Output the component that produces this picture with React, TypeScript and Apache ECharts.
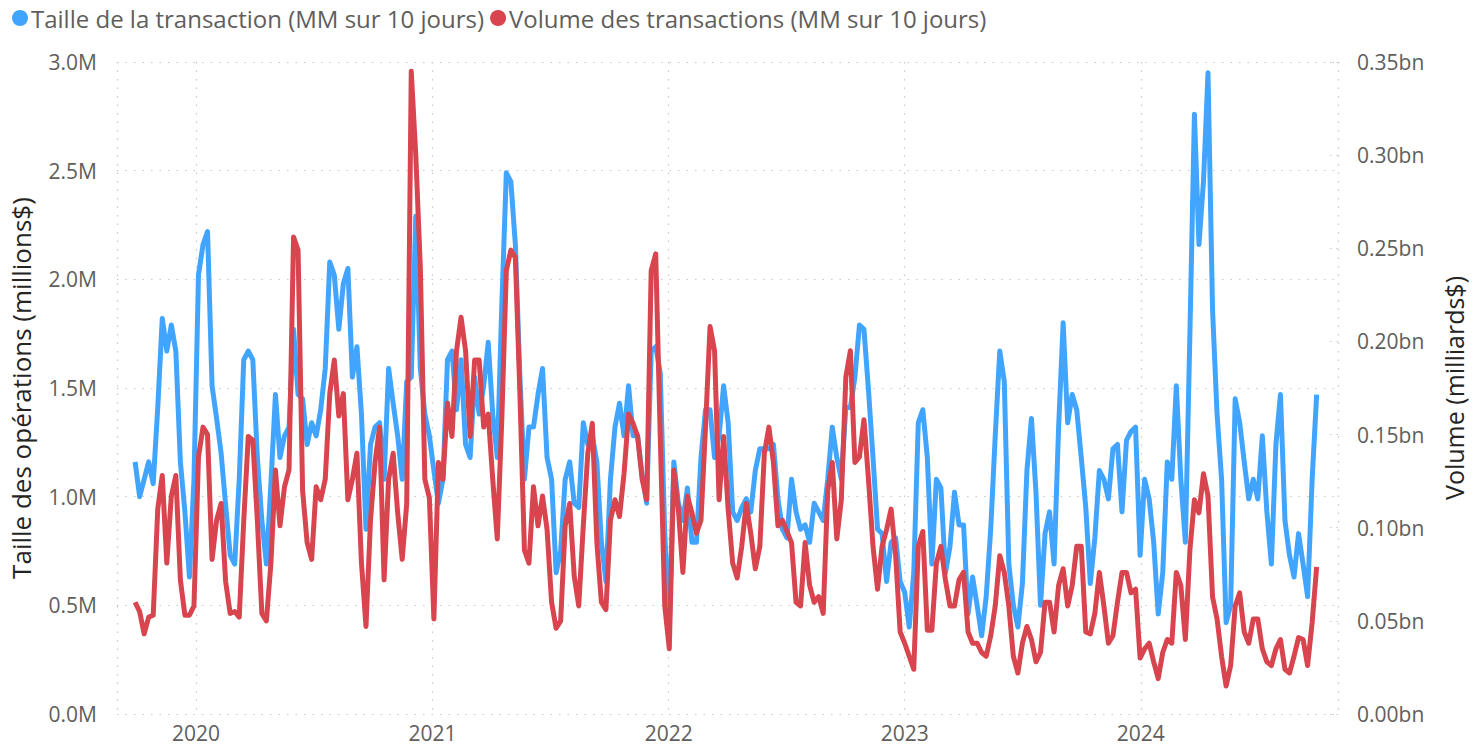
import React, { useEffect, useRef } from "react";
import * as echarts from "echarts";

// Weekly samples of the 10-day moving averages, starting 2019-09-29
const START_DATE = "2019-09-29";
const STEP_DAYS = 7;

// Taille de la transaction (millions $)
const tradeSize: number[] = [
  1.16, 1.0, 1.08, 1.16, 1.06, 1.41, 1.82, 1.67, 1.79, 1.67,
  1.16, 0.93, 0.63, 1.08, 2.02, 2.16, 2.22, 1.51, 1.36, 1.2,
  0.96, 0.73, 0.69, 1.08, 1.63, 1.67, 1.63, 1.18, 0.89, 0.69,
  1.06, 1.47, 1.18, 1.28, 1.32, 1.77, 1.47, 1.45, 1.24, 1.34,
  1.28, 1.4, 1.59, 2.08, 2.02, 1.77, 1.98, 2.05, 1.55, 1.69,
  1.38, 0.85, 1.24, 1.32, 1.34, 1.08, 1.59, 1.43, 1.28, 1.08,
  1.53, 1.55, 2.29, 1.59, 1.38, 1.28, 1.12, 0.97, 1.08, 1.63,
  1.67, 1.4, 1.63, 1.24, 1.18, 1.55, 1.38, 1.51, 1.71, 1.38,
  1.18, 1.88, 2.49, 2.45, 2.16, 1.55, 1.08, 1.32, 1.32, 1.47,
  1.59, 1.18, 1.08, 0.65, 0.75, 1.08, 1.16, 0.97, 0.95, 1.34,
  1.24, 1.28, 1.16, 0.79, 0.61, 1.08, 1.32, 1.43, 1.28, 1.51,
  1.28, 1.28, 1.1, 0.97, 1.67, 1.69, 1.57, 0.83, 0.4, 1.16,
  0.97, 0.89, 1.04, 0.79, 0.79, 1.18, 1.4, 1.4, 1.18, 1.28,
  1.51, 1.34, 0.93, 0.89, 0.95, 0.99, 0.93, 1.12, 1.22, 1.22,
  1.22, 1.24, 0.99, 0.85, 0.81, 1.08, 0.93, 0.85, 0.87, 0.79,
  0.97, 0.93, 0.89, 1.08, 1.32, 1.18, 1.08, 1.41, 1.41, 1.55,
  1.79, 1.77, 1.49, 1.18, 0.85, 0.83, 0.61, 0.79, 0.81, 0.61,
  0.56, 0.4, 0.65, 1.34, 1.4, 1.18, 0.69, 1.08, 1.04, 0.65,
  0.77, 1.02, 0.87, 0.87, 0.46, 0.63, 0.5, 0.36, 0.54, 0.85,
  1.28, 1.67, 1.53, 0.69, 0.5, 0.4, 0.6, 1.12, 1.36, 1.02,
  0.5, 0.83, 0.93, 0.69, 1.32, 1.8, 1.34, 1.47, 1.4, 1.18,
  0.95, 0.6, 0.81, 1.12, 1.08, 0.99, 1.22, 1.24, 0.93, 1.26,
  1.3, 1.32, 0.73, 1.08, 0.99, 0.79, 0.46, 0.65, 1.16, 1.08,
  1.51, 1.08, 0.79, 1.75, 2.76, 2.16, 2.45, 2.95, 1.86, 1.38,
  1.08, 0.42, 0.5, 1.45, 1.34, 1.16, 0.99, 1.08, 0.99, 1.28,
  0.93, 0.69, 1.24, 1.47, 0.89, 0.73, 0.63, 0.83, 0.69, 0.54,
  1.08, 1.47,
];

// Volume des transactions (milliards $)
const tradeVolume: number[] = [
  0.06, 0.055, 0.043, 0.052, 0.053, 0.11, 0.128, 0.081, 0.117, 0.128,
  0.072, 0.053, 0.053, 0.058, 0.138, 0.154, 0.15, 0.083, 0.104, 0.113,
  0.071, 0.054, 0.055, 0.052, 0.104, 0.149, 0.147, 0.104, 0.054, 0.05,
  0.081, 0.131, 0.101, 0.122, 0.131, 0.256, 0.249, 0.12, 0.092, 0.083,
  0.122, 0.115, 0.126, 0.172, 0.19, 0.16, 0.172, 0.115, 0.126, 0.14,
  0.081, 0.047, 0.104, 0.135, 0.154, 0.072, 0.126, 0.14, 0.108, 0.083,
  0.113, 0.345, 0.3, 0.24, 0.126, 0.116, 0.051, 0.135, 0.126, 0.167,
  0.149, 0.195, 0.213, 0.195, 0.149, 0.19, 0.19, 0.154, 0.161, 0.126,
  0.094, 0.158, 0.238, 0.249, 0.245, 0.172, 0.088, 0.081, 0.122, 0.101,
  0.117, 0.099, 0.06, 0.046, 0.05, 0.101, 0.113, 0.074, 0.058, 0.101,
  0.14, 0.156, 0.092, 0.06, 0.056, 0.104, 0.115, 0.106, 0.129, 0.161,
  0.156, 0.149, 0.126, 0.115, 0.238, 0.247, 0.149, 0.058, 0.035, 0.131,
  0.11, 0.076, 0.117, 0.108, 0.097, 0.104, 0.154, 0.208, 0.195, 0.115,
  0.149, 0.11, 0.081, 0.073, 0.09, 0.113, 0.097, 0.078, 0.09, 0.14,
  0.154, 0.135, 0.101, 0.104, 0.098, 0.092, 0.06, 0.058, 0.092, 0.069,
  0.06, 0.063, 0.054, 0.12, 0.135, 0.094, 0.115, 0.181, 0.195, 0.135,
  0.138, 0.158, 0.126, 0.09, 0.067, 0.09, 0.099, 0.11, 0.085, 0.044,
  0.038, 0.031, 0.024, 0.09, 0.098, 0.045, 0.045, 0.081, 0.09, 0.072,
  0.058, 0.058, 0.072, 0.076, 0.044, 0.038, 0.038, 0.033, 0.031, 0.042,
  0.058, 0.085, 0.076, 0.058, 0.031, 0.022, 0.038, 0.047, 0.04, 0.028,
  0.033, 0.06, 0.06, 0.044, 0.069, 0.078, 0.058, 0.069, 0.09, 0.09,
  0.044, 0.043, 0.054, 0.076, 0.058, 0.038, 0.042, 0.06, 0.076, 0.076,
  0.065, 0.067, 0.03, 0.035, 0.038, 0.028, 0.019, 0.033, 0.04, 0.038,
  0.076, 0.069, 0.04, 0.088, 0.115, 0.108, 0.129, 0.117, 0.063, 0.051,
  0.031, 0.015, 0.026, 0.058, 0.065, 0.044, 0.038, 0.051, 0.051, 0.035,
  0.028, 0.026, 0.035, 0.04, 0.024, 0.022, 0.031, 0.041, 0.04, 0.026,
  0.049, 0.079,
];

const AXIS_MIN = "2019-09-01";
const AXIS_MAX = "2024-11-01";
const LEFT_TICKS = { min: 0, max: 3, interval: 0.5 };
const RIGHT_TICKS = { min: 0, max: 0.35, interval: 0.05 };

const SERIES_NAMES = [
  "Taille de la transaction (MM sur 10 jours)",
  "Volume des transactions (MM sur 10 jours)",
];
const COLORS = ["#41A5FF", "#D8454F"];
const FONT = "'Open Sans', 'Noto Sans', sans-serif";

const DAY = 86400000;
const toPairs = (vals: number[]) => {
  const t0 = Date.parse(START_DATE + "T00:00:00Z");
  return vals.map((v, i) => [t0 + i * STEP_DAYS * DAY, v]);
};

export default function App() {
  const ref = useRef<HTMLDivElement>(null);
  useEffect(() => {
    if (!ref.current) return;
    const chart = echarts.init(ref.current, undefined, { renderer: "svg" });
    const dotted = { type: [1.5, 7] as any, color: "#C8C8C8", width: 1.2 };
    chart.setOption({
      animation: false,
      textStyle: { fontFamily: FONT },
      legend: {
        left: 7,
        top: 1,
        icon: "circle",
        itemWidth: 16,
        itemHeight: 16,
        itemGap: 6,
        textStyle: { fontSize: 24, color: "#605E5C", fontFamily: FONT, padding: [0, 0, 0, -2] },
        data: SERIES_NAMES,
      },
      grid: { left: 117, right: 142, top: 62, bottom: 33, containLabel: false },
      xAxis: {
        type: "time",
        min: Date.parse(AXIS_MIN + "T00:00:00Z"),
        max: Date.parse(AXIS_MAX + "T00:00:00Z"),
        splitNumber: 5,
        minInterval: 360 * DAY,
        axisLine: { show: false },
        axisTick: { show: false },
        axisLabel: {
          fontSize: 21,
          color: "#605E5C",
          margin: 8,
          fontFamily: FONT,
          formatter: (v: number) => String(new Date(v).getUTCFullYear()),
        },
        splitLine: { show: true, lineStyle: dotted },
      },
      yAxis: [
        {
          type: "value",
          ...LEFT_TICKS,
          position: "left",
          name: "Taille des opérations (millions$)",
          nameLocation: "middle",
          nameGap: 83,
          nameTextStyle: { fontSize: 26, color: "#252423", fontFamily: FONT },
          axisLine: { show: false },
          axisTick: { show: false },
          axisLabel: {
            fontSize: 21,
            color: "#605E5C",
            margin: 20,
            fontFamily: FONT,
            formatter: (v: number) => v.toFixed(1) + "M",
          },
          splitLine: { show: true, lineStyle: dotted },
        },
        {
          type: "value",
          ...RIGHT_TICKS,
          position: "right",
          name: "Volume (milliards$)",
          nameLocation: "middle",
          nameGap: 103,
          nameTextStyle: { fontSize: 25, color: "#252423", fontFamily: FONT },
          axisLine: { show: false },
          axisTick: {
            show: true,
            inside: true,
            length: 10,
            lineStyle: { type: [1.5, 5] as any, color: "#C8C8C8" },
          },
          axisLabel: {
            fontSize: 21,
            color: "#605E5C",
            margin: 19,
            fontFamily: FONT,
            formatter: (v: number) => v.toFixed(2) + "bn",
          },
          splitLine: { show: false },
        },
      ],
      series: [
        {
          name: SERIES_NAMES[0],
          type: "line",
          yAxisIndex: 0,
          data: toPairs(tradeSize),
          showSymbol: false,
          symbol: "none",
          lineStyle: { width: 5, color: COLORS[0], join: "round" },
          itemStyle: { color: COLORS[0] },
        },
        {
          name: SERIES_NAMES[1],
          type: "line",
          yAxisIndex: 1,
          data: toPairs(tradeVolume),
          showSymbol: false,
          symbol: "none",
          lineStyle: { width: 5, color: COLORS[1], join: "round" },
          itemStyle: { color: COLORS[1] },
        },
      ],
    });
    return () => chart.dispose();
  }, []);
  return (
    <div
      ref={ref}
      style={{ position: "absolute", left: 0, top: 0, width: 1480, height: 747 }}
    />
  );
}
